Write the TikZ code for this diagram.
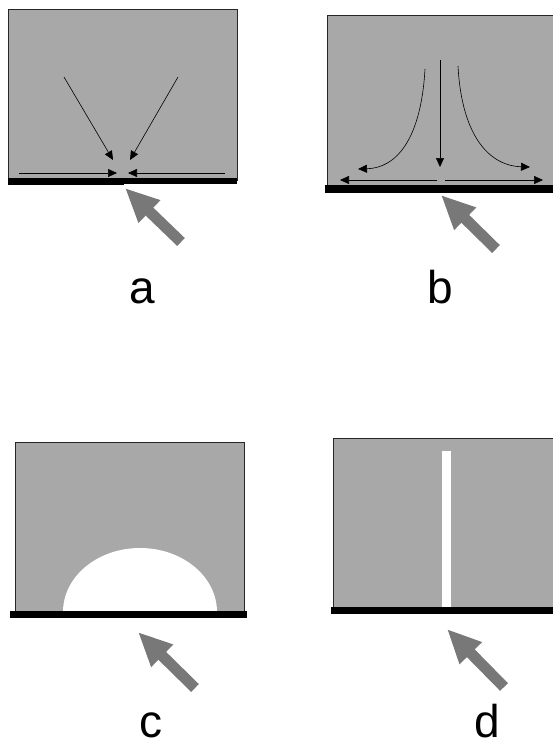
\documentclass[tikz,border=0pt]{standalone}
\usepackage{fontspec}
\setmainfont{Liberation Sans}
\usetikzlibrary{arrows.meta}
\definecolor{tankgray}{RGB}{168,168,168}
\definecolor{beamgray}{RGB}{120,120,120}
\tikzset{
  tank/.style={fill=tankgray, draw=black!85, line width=0.8pt},
  basebar/.style={fill=black},
  flow/.style={-{Triangle[length=9pt,width=8pt]}, line width=0.6pt, black},
  beam/.style={draw=beamgray, line width=11pt, -{Triangle[length=34pt,width=29pt]}},
  lbl/.style={font=\fontsize{46}{46}\selectfont, anchor=base, inner sep=0pt}
}
\begin{document}
\begin{tikzpicture}[x=1pt,y=-1pt]
\useasboundingbox (0,0) rectangle (553,747);
% ---------- panel a ----------
\filldraw[tank] (8,9) rectangle (237,180);
\fill[basebar] (8,178) rectangle (124,185);
\fill[basebar] (124,178) rectangle (237,183.5);
\coordinate (a1s) at (64,77);  \coordinate (a1e) at (113,160);
\coordinate (a2s) at (178,77); \coordinate (a2e) at (130,160);
\coordinate (a3s) at (19,173); \coordinate (a3e) at (117,173);
\coordinate (a4s) at (225,173);\coordinate (a4e) at (128,173);
\draw[flow] (a1s) -- (a1e);
\draw[flow] (a2s) -- (a2e);
\draw[flow] (a3s) -- (a3e);
\draw[flow] (a4s) -- (a4e);
\coordinate (abt) at (181,242); \coordinate (abh) at (125,188);
\draw[beam] (abt) -- (abh);
\node[lbl] (la) at (142.5,303) {a};
% ---------- panel b ----------
\filldraw[tank] (327,15) -- (553.5,15) -- (553.5,186) -- (327,186) -- cycle;
\fill[basebar] (325,185) rectangle (553.5,193);
\coordinate (b1s) at (440,60);  \coordinate (b1e) at (440,167);
\coordinate (b2s) at (437,180); \coordinate (b2e) at (340,180);
\coordinate (b3s) at (445,180); \coordinate (b3e) at (543,180);
\coordinate (b4s) at (425,69);  \coordinate (b4e) at (358,169);
\coordinate (b5s) at (458,66);  \coordinate (b5e) at (530,167);
\draw[flow] (b1s) -- (b1e);
\draw[flow] (b2s) -- (b2e);
\draw[flow] (b3s) -- (b3e);
\draw[flow] (b4s) .. controls (421,140) and (396,168) .. (b4e);
\draw[flow] (b5s) .. controls (462,140) and (492,166) .. (b5e);
\coordinate (bbt) at (496,249); \coordinate (bbh) at (441,195);
\draw[beam] (bbt) -- (bbh);
\node[lbl] (lb) at (440,303) {b};
% ---------- panel c ----------
\filldraw[tank] (15,442) rectangle (244,612);
\fill[white] (63,612) arc[start angle=180, end angle=360, x radius=77, y radius=64] -- cycle;
\fill[basebar] (10,611) rectangle (247,618);
\coordinate (cbt) at (195,688); \coordinate (cbh) at (138,632);
\draw[beam] (cbt) -- (cbh);
\node[lbl] (lc) at (151,737) {c};
% ---------- panel d ----------
\filldraw[tank] (333,438) -- (553.5,438) -- (553.5,608) -- (333,608) -- cycle;
\fill[white] (442,451) rectangle (451,608);
\fill[basebar] (331,607) rectangle (553.5,614);
\coordinate (dbt) at (504,687); \coordinate (dbh) at (447,629);
\draw[beam] (dbt) -- (dbh);
\node[lbl] (ld) at (487,737) {d};
\end{tikzpicture}
\end{document}
